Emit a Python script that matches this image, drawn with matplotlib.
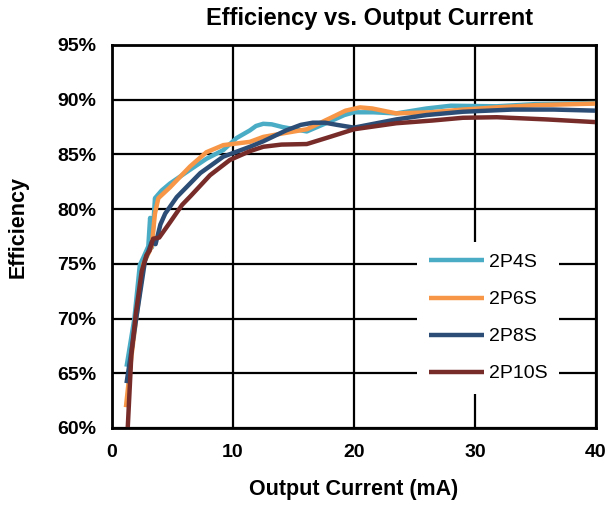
import matplotlib
matplotlib.use("Agg")
import matplotlib.pyplot as plt
from matplotlib.ticker import FuncFormatter

plt.rcParams['font.family'] = ['Liberation Sans', 'DejaVu Sans']

# Data (output current in mA, efficiency in %)
x_2p4s = [1.2, 1.85, 2.3, 2.6, 3.0, 3.15, 3.3, 3.55, 4.1, 4.8, 6.45, 7.8, 9.2, 10.3, 11.4, 11.9,
          12.5, 13.2, 14.1, 16.1, 18.0, 19.2, 20.0, 21.6, 23.5, 26.0, 28.0, 31.8, 35.0, 40.0]
y_2p4s = [65.6, 70.0, 74.9, 75.6, 76.6, 79.2, 76.5, 81.0, 81.7, 82.35, 83.6, 84.6, 85.4, 86.5, 87.2, 87.6,
          87.8, 87.75, 87.5, 87.1, 88.0, 88.6, 88.85, 88.85, 88.75, 89.2, 89.45, 89.4, 89.6, 89.7]

x_2p6s = [1.15, 1.6, 2.0, 2.6, 3.28, 3.55, 3.83, 4.8, 6.45, 7.8, 9.2, 11.4, 12.5, 14.0, 16.1,
          18.0, 19.3, 20.5, 21.5, 23.5, 26.3, 29.0, 31.8, 35.0, 40.0]
y_2p6s = [61.9, 66.5, 70.0, 75.0, 76.6, 79.6, 81.0, 82.0, 83.9, 85.2, 85.85, 86.15, 86.6, 86.9, 87.3,
          88.3, 89.0, 89.3, 89.2, 88.75, 88.85, 89.1, 89.3, 89.5, 89.65]

x_2p8s = [1.2, 1.6, 2.0, 2.73, 3.28, 3.6, 4.0, 4.4, 5.35, 7.3, 9.2, 11.4, 12.5, 14.4, 15.6, 16.6,
          17.6, 18.6, 20.0, 23.5, 26.0, 29.0, 33.1, 36.5, 40.0]
y_2p8s = [64.1, 67.0, 70.0, 75.3, 77.0, 76.8, 78.6, 79.6, 81.1, 83.3, 84.8, 85.7, 86.2, 87.2, 87.7, 87.9,
          87.9, 87.7, 87.45, 88.2, 88.6, 88.9, 89.1, 89.1, 89.0]

x_2p10s = [1.3, 1.6, 1.95, 2.45, 2.85, 3.1, 3.4, 3.9, 4.8, 5.8, 6.5, 8.1, 9.75, 11.4, 12.5,
           14.0, 16.1, 18.0, 20.0, 23.5, 26.5, 29.0, 31.8, 35.9, 40.0]
y_2p10s = [60.0, 66.7, 70.3, 74.3, 75.8, 76.2, 77.3, 77.4, 78.8, 80.4, 81.2, 83.1, 84.5, 85.3, 85.7,
           85.9, 85.95, 86.6, 87.3, 87.85, 88.1, 88.35, 88.4, 88.2, 87.95]

series_names = ['2P4S', '2P6S', '2P8S', '2P10S']
series_colors = ['#4BACC6', '#F79646', '#2C4D75', '#772C2A']
x_ticks = [0, 10, 20, 30, 40]
y_ticks = [60, 65, 70, 75, 80, 85, 90, 95]

fig = plt.figure(figsize=(6.06, 5.05), dpi=100)
ax = fig.add_axes([112/606, 1-428/505, 484/606, 383/505])

for xs, ys, name, col in zip([x_2p4s, x_2p6s, x_2p8s, x_2p10s],
                             [y_2p4s, y_2p6s, y_2p8s, y_2p10s],
                             series_names, series_colors):
    ax.plot(xs, ys, color=col, lw=3.2, label=name, solid_capstyle='butt',
            solid_joinstyle='round', clip_on=True)

ax.set_xlim(0, 40)
ax.set_ylim(60, 95)
ax.set_xticks(x_ticks)
ax.set_yticks(y_ticks)
ax.yaxis.set_major_formatter(FuncFormatter(lambda v, p: f"{int(round(v))}%"))
ax.grid(True, color='black', lw=1.6)
ax.set_axisbelow(True)
for s in ax.spines.values():
    s.set_linewidth(2.0)
    s.set_color('black')
ax.tick_params(length=0, labelsize=14, pad=11.5)
for lab in ax.get_xticklabels() + ax.get_yticklabels():
    lab.set_fontweight('bold')

fig.text(370/606, 1-19/505, 'Efficiency vs. Output Current', ha='center', va='center',
         fontsize=17, fontweight='bold')
fig.text(354/606, 1-490/505, 'Output Current (mA)', ha='center', va='center',
         fontsize=15.5, fontweight='bold')
fig.text(18/606, 1-227/505, 'Efficiency', ha='center', va='center', rotation=90,
         fontsize=15.5, fontweight='bold')

leg = ax.legend(loc='upper left', bbox_to_anchor=((417-112)/484, (428-242)/383),
                borderaxespad=0, frameon=True, fancybox=False, framealpha=1,
                facecolor='white', edgecolor='none', fontsize=14,
                handlelength=2.85, handletextpad=0.25, labelspacing=1.0, borderpad=0.6)

fig.savefig('out.png', dpi=100)
